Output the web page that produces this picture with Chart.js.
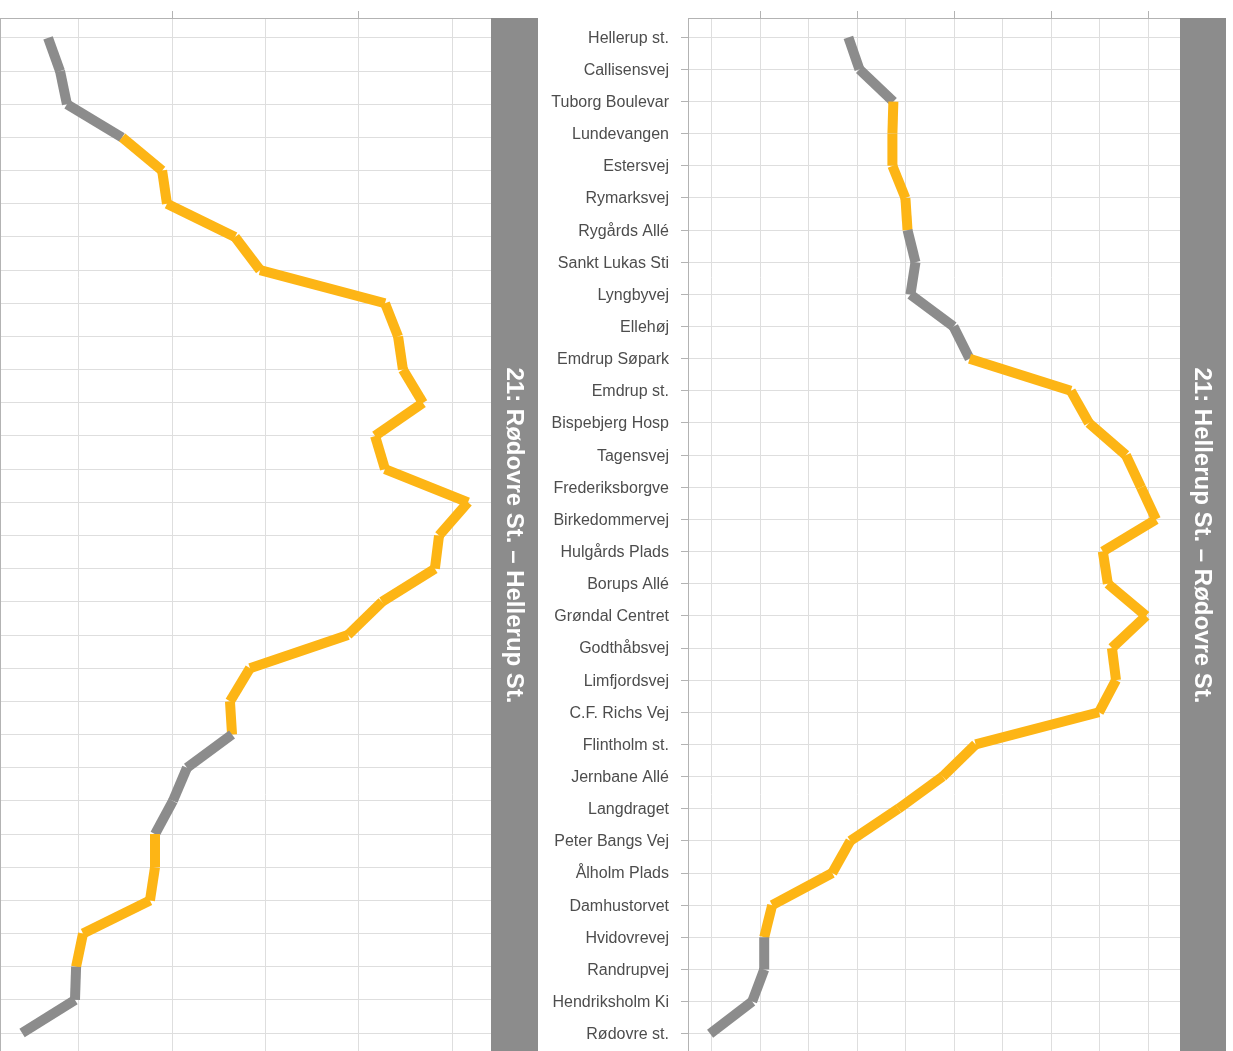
<!DOCTYPE html>
<html>
<head>
<meta charset="utf-8">
<title>Linje 21 - belægning</title>
<script src="https://cdn.jsdelivr.net/npm/chart.js@4.4.1/dist/chart.umd.min.js"></script>
<style>
    html, body {
        margin: 0;
        padding: 0;
        width: 1233px;
        height: 1051px;
        overflow: hidden;
        background: #fff;
    }
    canvas { position: absolute; top: -30px; }
    #left-panel { left: -160px; }
    #right-panel { left: 528px; }
</style>
</head>
<body>
<canvas id="left-panel" width="698" height="1120"></canvas>
<canvas id="right-panel" width="698" height="1120"></canvas>

<script>
// ------------------------------------------------------
// @Data
// ------------------------------------------------------

// Hellerup St. -> Rødovre St.
const stopsOut = [
    'Hellerup st.', 'Callisensvej', 'Tuborg Boulevar', 'Lundevangen', 'Estersvej',
    'Rymarksvej', 'Rygårds Allé', 'Sankt Lukas Sti', 'Lyngbyvej', 'Ellehøj',
    'Emdrup Søpark', 'Emdrup st.', 'Bispebjerg Hosp', 'Tagensvej', 'Frederiksborgve',
    'Birkedommervej', 'Hulgårds Plads', 'Borups Allé', 'Grøndal Centret', 'Godthåbsvej',
    'Limfjordsvej', 'C.F. Richs Vej', 'Flintholm st.', 'Jernbane Allé', 'Langdraget',
    'Peter Bangs Vej', 'Ålholm Plads', 'Damhustorvet', 'Hvidovrevej', 'Randrupvej',
    'Hendriksholm Ki', 'Rødovre st.',
];
const loadOut = [
    955, 1012, 1187, 1182, 1182, 1249, 1260, 1301, 1275, 1497,
    1580, 2102, 2195, 2386, 2464, 2541, 2267, 2293, 2490, 2314,
    2335, 2247, 1611, 1441, 1213, 965, 872, 562, 521, 521,
    459, 242,
];
// 1 = highlighted stretch (orange), one flag per segment
const flagOut = [
    0, 0, 1, 1, 1, 1, 0, 0, 0, 0,
    1, 1, 1, 1, 1, 1, 1, 1, 1, 1,
    1, 1, 1, 1, 1, 1, 1, 1, 0, 0,
    0,
];
const gridOut = [250, 500, 750, 1000, 1250, 1500, 1750, 2000, 2250, 2500];

// Rødovre St. -> Hellerup St. (labels sit outside the picture)
const stopsBack = [
    'Rødovre st.', 'Hendriksholm Ki', 'Randrupvej', 'Hvidovrevej', 'Damhustorvet',
    'Ålholm Plads', 'Peter Bangs Vej', 'Langdraget', 'Jernbane Allé', 'Flintholm st.',
    'C.F. Richs Vej', 'Limfjordsvej', 'Godthåbsvej', 'Grøndal Centret', 'Borups Allé',
    'Hulgårds Plads', 'Birkedommervej', 'Frederiksborgve', 'Tagensvej', 'Bispebjerg Hosp',
    'Emdrup st.', 'Emdrup Søpark', 'Ellehøj', 'Lyngbyvej', 'Sankt Lukas Sti',
    'Rygårds Allé', 'Rymarksvej', 'Estersvej', 'Lundevangen', 'Callisensvej',
    'Hellerup st.',
];
const loadBack = [
    337, 401, 438, 733, 947, 973, 1337, 1471, 2139, 2209,
    2235, 2342, 2086, 2139, 2583, 2428, 2406, 2123, 1941, 1417,
    1310, 1321, 1080, 1005, 909, 909, 882, 524, 487, 481,
    198,
];
const flagBack = [
    0, 0, 0, 1, 1, 1, 1, 1, 1, 1,
    1, 1, 1, 1, 1, 1, 1, 1, 1, 1,
    1, 0, 0, 0, 1, 1, 1, 1, 0, 0,
];
const gridBack = [500, 1000, 1500, 2000, 2500];

// ------------------------------------------------------
// @Styles
// ------------------------------------------------------

// two spellings of the same colour, alternated per segment, so every
// segment is stroked on its own with butt ends
const ORANGE = ['#fdb515', 'rgb(253, 181, 21)'];
const GREY   = ['#8c8c8c', 'rgb(140, 140, 140)'];
const STRIP  = '#8c8c8c';
const GRID   = '#dedede';
const FRAME  = '#b3b3b3';

Chart.defaults.font.family = '"Liberation Sans", Arial, Helvetica, sans-serif';

const stripPlugin = {
    id: 'strip',
    afterDraw(chart, args, opts) {
        const { ctx, chartArea: { right, top, bottom } } = chart;
        ctx.save();
        ctx.fillStyle = STRIP;
        ctx.fillRect(right, top, opts.width, bottom - top);
        ctx.translate(right + opts.width / 2, (top + bottom) / 2);
        ctx.rotate(Math.PI / 2);
        ctx.fillStyle = '#ffffff';
        ctx.font = 'bold 24px "Liberation Sans", Arial, sans-serif';
        ctx.textAlign = 'center';
        ctx.textBaseline = 'middle';
        ctx.fillText(opts.title, 0, 1);
        ctx.restore();
    },
};

// ------------------------------------------------------
// @Panels
// ------------------------------------------------------

function drawPanel(id, stops, load, flags, grid, xMin, xMax, major, title, stripWidth) {
    const box = document.getElementById(id);
    if (!box) return;

    new Chart(box.getContext('2d'), {
        type: 'scatter',
        data: {
            datasets: [{
                data            : stops.map((s, i) => ({ x: load[i], y: i })),
                showLine        : true,
                pointRadius     : 0,
                pointHoverRadius: 0,
                borderWidth     : 10,
                borderCapStyle  : 'butt',
                borderColor     : GREY[0],
                segment: {
                    borderColor: (ctx) => {
                        const i = ctx.p0DataIndex;
                        return (flags[i] ? ORANGE : GREY)[i % 2];
                    },
                },
            }],
        },
        options: {
            responsive: false,
            animation: false,
            events: [],
            layout: {
                padding: { top: 41, right: stripWidth, bottom: 37, left: 0 },
            },
            plugins: {
                legend: { display: false },
                tooltip: { enabled: false },
                strip: { title: title, width: stripWidth },
            },
            scales: {
                x: {
                    type: 'linear',
                    position: 'top',
                    min: xMin,
                    max: xMax,
                    afterBuildTicks: (scale) => {
                        scale.ticks = grid.map((v) => ({ value: v }));
                    },
                    ticks: { display: false },
                    grid: {
                        color: GRID,
                        lineWidth: 1,
                        tickLength: 7,
                        tickColor: (ctx) => (ctx.tick && ctx.tick.value % major === 0 ? FRAME : 'rgba(0,0,0,0)'),
                    },
                    border: { color: FRAME, width: 1 },
                },
                y: {
                    type: 'linear',
                    reverse: true,
                    min: -0.6,
                    max: stops.length - 0.4,
                    afterFit: (scale) => { scale.width = 160; },
                    ticks: {
                        stepSize: 1,
                        autoSkip: false,
                        includeBounds: false,
                        padding: 12,
                        labelOffset: 1,
                        color: '#4d4d4d',
                        font: { size: 16 },
                        callback: (v) => stops[v],
                    },
                    grid: { color: GRID, lineWidth: 1, tickLength: 7, tickColor: FRAME },
                    border: { color: FRAME, width: 1 },
                },
            },
        },
        plugins: [stripPlugin],
    });
}

drawPanel('left-panel', stopsBack, loadBack, flagBack, gridBack, 80, 2706, 1000,
    '21: Rødovre St. – Hellerup St.', 47);
drawPanel('right-panel', stopsOut, loadOut, flagOut, gridOut, 128, 2665, 500,
    '21: Hellerup St. – Rødovre St.', 46);
</script>
</body>
</html>
